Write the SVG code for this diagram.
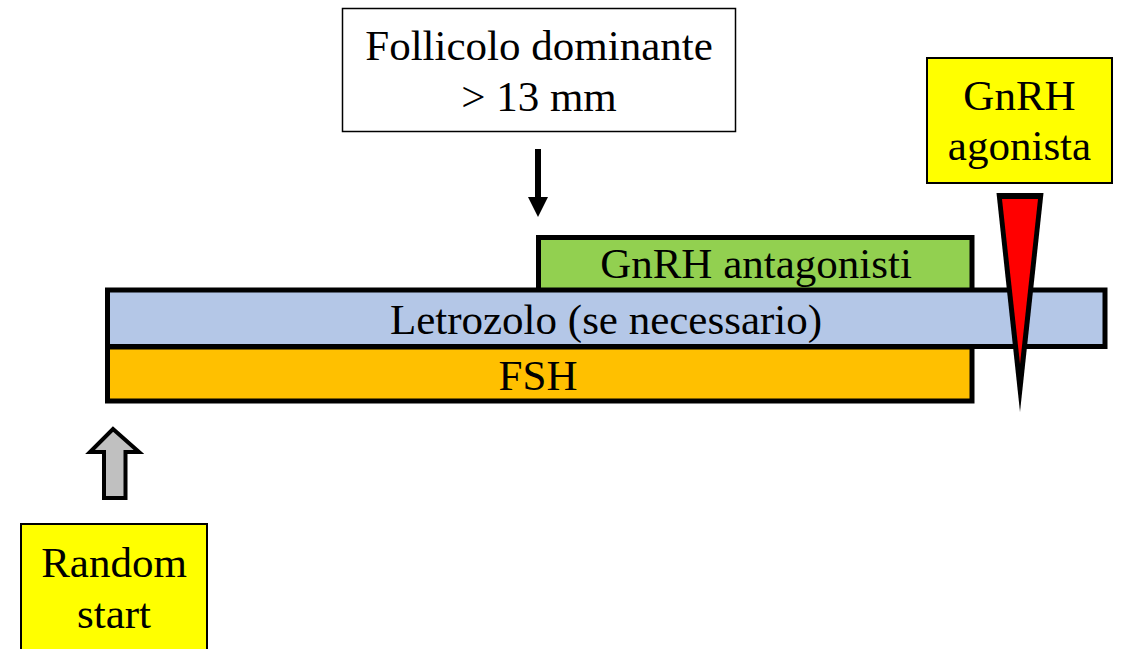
<svg xmlns="http://www.w3.org/2000/svg" width="1123" height="649" viewBox="0 0 1123 649">
<style>
text{font-family:"Liberation Serif","Times New Roman",serif;font-size:43px;fill:#000;text-anchor:middle}
.bar{stroke:#000;stroke-width:5}
.box{stroke:#000;stroke-width:2}
</style>
<rect width="1123" height="649" fill="#fff"/>
<g id="follicolo">
<rect x="342.5" y="8.5" width="393" height="123" fill="#fff" stroke="#000" stroke-width="1.5"/>
<text x="539" y="60">Follicolo dominante</text>
<text x="539" y="111">&gt; 13 mm</text>
</g>
<g id="gnrh-antagonisti">
<rect class="bar" x="538.5" y="237.5" width="433.5" height="53" fill="#92D050"/>
<text x="756" y="278">GnRH antagonisti</text>
</g>
<g id="fsh">
<rect class="bar" x="107.5" y="347" width="864.5" height="54" fill="#FFC000"/>
<text x="538" y="390">FSH</text>
</g>
<g id="letrozolo">
<rect class="bar" x="107.5" y="290" width="997.5" height="56.5" fill="#B4C7E7"/>
<text x="606" y="334">Letrozolo (se necessario)</text>
</g>
<g id="gnrh-agonista">
<rect class="box" x="927" y="58" width="185" height="125" fill="#FFFF00"/>
<text x="1019.5" y="110">GnRH</text>
<text x="1019.5" y="160">agonista</text>
</g>
<g id="trigger">
<polygon points="996.5,193 1043.5,193 1020,412" fill="#000"/>
<polygon points="1002,199 1038,199 1020,364" fill="#FF0000"/>
</g>
<g id="random-start">
<rect class="box" x="21" y="524" width="186" height="140" fill="#FFFF00"/>
<text x="114" y="577">Random</text>
<text x="114" y="628">start</text>
</g>
<g id="connectors">
<path d="M538,149 V198" stroke="#000" stroke-width="6" fill="none"/>
<polygon points="528,197 548,197 538,217" fill="#000"/>
<polygon points="113,429 139,452 125.5,452 125.5,498 104,498 104,452 90,452" fill="#C0C0C0" stroke="#000" stroke-width="4" stroke-linejoin="miter"/>
</g>
</svg>
